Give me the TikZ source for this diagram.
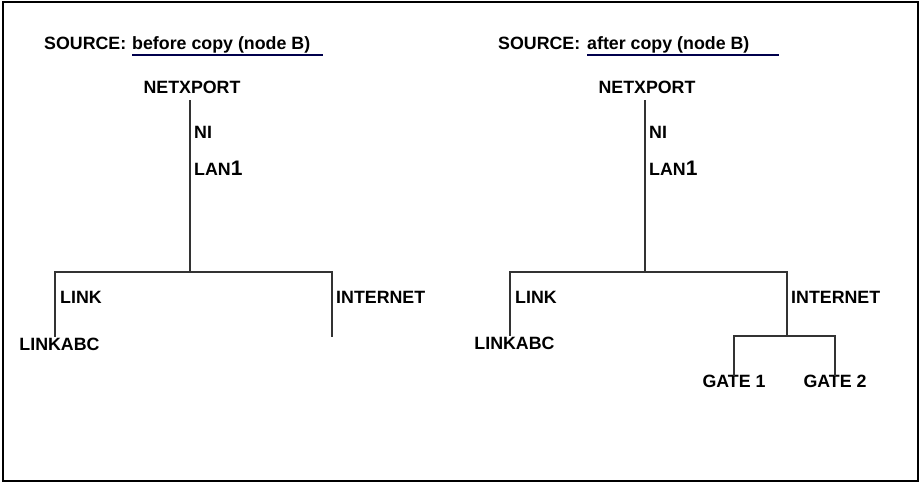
\documentclass[tikz,border=0pt]{standalone}
\usepackage{fontspec}
\setmainfont{Liberation Sans}
\tikzset{
  lbl/.style={inner sep=0pt, font=\fontsize{17.8}{20}\selectfont\bfseries},
  branch/.style={draw=black!80, line width=1.3pt},
}
\begin{document}
\begin{tikzpicture}[x=1pt, y=-1pt]
\useasboundingbox (0,0) rectangle (921,483);
\draw[black, line width=2pt] (3,2) rectangle (918,481);

% before copy
\node[lbl, anchor=base west] (srcL) at (44,49) {SOURCE:};
\node[lbl, anchor=base west] (capL) at (132,49) {before copy (node B)};
\draw[blue!30!black, line width=1.2pt] ([yshift=-6pt]capL.base west) -- ++(191,0);

\node[lbl, anchor=base] (netL) at (192,93) {NETXPORT};
\node[lbl, anchor=base west] (niL) at (194,138) {NI};
\node[lbl, anchor=base west] (lanL) at (194,175) {LAN{\fontsize{21}{22}\selectfont 1}};
\coordinate (junL) at (190,272);
\draw[branch, shorten <=7pt] (netL.south -| junL) -- (junL);

\node[lbl, anchor=base west] (linkL) at (60,303) {LINK};
\node[lbl, anchor=base] (linkabcL) at (59.5,350) {LINKABC};
\node[lbl, anchor=base west] (inetL) at (336,303) {INTERNET};
\coordinate (lftL) at (55,272);
\coordinate (rgtL) at (332,272);
\coordinate (endL) at (332,337);
\draw[branch] (junL) -- (lftL) -- (linkabcL.north -| lftL);
\draw[branch] (junL) -- (rgtL) -- (endL);

% after copy
\node[lbl, anchor=base west] (srcR) at (498,49) {SOURCE:};
\node[lbl, anchor=base west] (capR) at (587,49) {after copy (node B)};
\draw[blue!30!black, line width=1.2pt] ([yshift=-6pt]capR.base west) -- ++(192,0);

\node[lbl, anchor=base] (netR) at (647,93) {NETXPORT};
\node[lbl, anchor=base west] (niR) at (649,138) {NI};
\node[lbl, anchor=base west] (lanR) at (649,175) {LAN{\fontsize{21}{22}\selectfont 1}};
\coordinate (junR) at (645,272);
\draw[branch, shorten <=7pt] (netR.south -| junR) -- (junR);

\node[lbl, anchor=base west] (linkR) at (515,303) {LINK};
\node[lbl, anchor=base] (linkabcR) at (514.5,349) {LINKABC};
\node[lbl, anchor=base west] (inetR) at (791,303) {INTERNET};
\coordinate (lftR) at (510,272);
\coordinate (rgtR) at (787,272);
\coordinate (splitR) at (787,336);
\draw[branch] (junR) -- (lftR) -- (linkabcR.north -| lftR);
\draw[branch] (junR) -- (rgtR) -- (splitR);

\node[lbl, anchor=base] (gate1) at (734,387) {GATE 1};
\node[lbl, anchor=base] (gate2) at (835,387) {GATE 2};
\draw[branch] (splitR) -- (splitR -| gate1) -- ([yshift=-2pt]gate1.north);
\draw[branch] (splitR) -- (splitR -| gate2) -- ([yshift=-2pt]gate2.north);
\end{tikzpicture}
\end{document}
